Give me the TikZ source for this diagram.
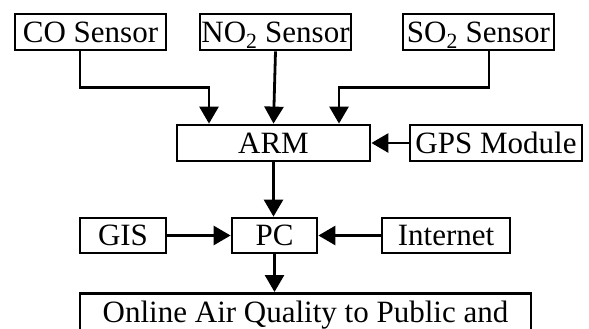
\documentclass[tikz,border=0pt]{standalone}
\usepackage{fontspec}
\setmainfont{Liberation Serif}
\usetikzlibrary{arrows.meta}
\begin{document}
\begin{tikzpicture}[x=1pt,y=-1pt,
  blk/.style={draw, line width=2.8pt, inner sep=0pt, align=center,
    font=\fontsize{31}{36}\selectfont, text height=20.5pt, text depth=0pt,
    minimum height=36pt},
  arr/.style={line width=2.8pt, -{Triangle[width=19pt,length=17pt]}}]
\useasboundingbox (0,0) rectangle (589,329);
% sensor row
\node[blk, minimum width=151pt] (co)  at (90.5,32)  {CO Sensor};
\node[blk, minimum width=151pt] (no2) at (275.5,32) {NO\textsubscript{2} Sensor};
\node[blk, minimum width=151pt] (so2) at (478.5,32) {SO\textsubscript{2} Sensor};
% controller row
\node[blk, minimum width=193pt] (arm) at (273.5,143) {ARM};
\node[blk, minimum width=172pt] (gps) at (496,143)   {GPS Module};
% PC row
\node[blk, minimum width=86pt, minimum height=35pt]  (gis) at (123,235.5)   {GIS};
\node[blk, minimum width=85pt, minimum height=35pt]  (pc)  at (274.5,235.5) {PC};
\node[blk, minimum width=128pt, minimum height=35pt] (net) at (446,235.5)   {Internet};
% output box (runs past the lower edge)
\node[blk, minimum width=451pt, minimum height=44pt, anchor=north,
      text depth=6.5pt] (out) at (305.5,292) {Online Air Quality to Public and};
% connectors
\draw[arr] ([xshift=-10.5pt]co.south) -- ++(0,36) -| ([xshift=-64.5pt]arm.north);
\draw[arr] (no2.south) -- (arm.north);
\draw[arr] ([xshift=10.5pt]so2.south) -- ++(0,36) -| ([xshift=65.5pt]arm.north);
\draw[arr] (gps.west) -- (arm.east);
\draw[arr] (arm.south) -- (arm.south |- pc.north);
\draw[arr] (gis.east) -- (pc.west);
\draw[arr] (net.west) -- (pc.east);
\draw[arr] (pc.south) -- (pc.south |- out.north);
\end{tikzpicture}
\end{document}
